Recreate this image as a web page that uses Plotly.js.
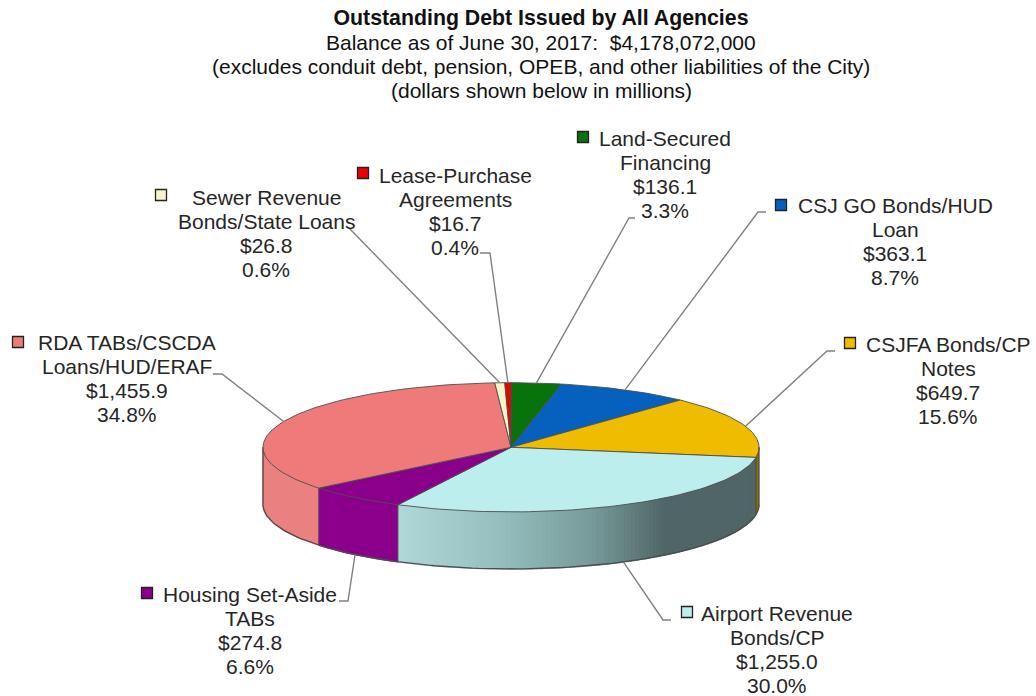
<!DOCTYPE html>
<html>
<head>
<meta charset="utf-8">
<script src="https://cdn.plot.ly/plotly-3.0.1.min.js"></script>
<style>html,body{margin:0;padding:0;background:#fff}#chart{width:1036px;height:696px}</style>
</head>
<body>
<div id="chart"></div>
<script>
// ---- chart values, clockwise from 12 o'clock
var categories = [['Land-Secured','Financing'], ['CSJ GO Bonds/HUD','Loan'], ['CSJFA Bonds/CP','Notes'],
  ['Airport Revenue','Bonds/CP'], ['Housing Set-Aside','TABs'], ['RDA TABs/CSCDA','Loans/HUD/ERAF'],
  ['Sewer Revenue','Bonds/State Loans'], ['Lease-Purchase','Agreements']];
var amounts = [136.1, 363.1, 649.7, 1255.0, 274.8, 1455.9, 26.8, 16.7];
var titleText = '<b>Outstanding Debt Issued by All Agencies</b>';
var subtitleLines = ['Balance as of June 30, 2017:  $4,178,072,000',
  '(excludes conduit debt, pension, OPEB, and other liabilities of the City)',
  '(dollars shown below in millions)'];

// ---- styles
var topColors  = ['#08730A', '#0560BE', '#EFBC00', '#BDEEEE', '#8B008B', '#EE7A7A', '#F5F5C8', '#EE0000'];
var wallColors = ['#08730A', '#0560BE', '#8A6E00', null, '#8B008B', '#EA8080', '#F5F5C8', '#EE0000'];
var edgeColor = '#4d4d4d', leaderColor = '#808080', textColor = '#262626';
var fontFamily = '"Liberation Sans", Arial, sans-serif', fontSize = 21, lineStep = 24.2;
// airport wall shading: [pixel x, r, g, b]
var gradient = [[398,176,216,216],[500,150,190,190],[590,120,155,155],[665,80,102,102],[757,80,102,102]];
// label layout (pixels on the axes that span the window)
var labelX   = [665, 895, 948, 777, 250, 127, 266, 455];
var labelY   = [138, 205, 344, 613, 594, 342, 197, 175];
var keyX     = [583, 781, 850, 687, 147,  18, 161, 363];
var keyY     = [137, 205, 343, 612, 593, 342, 195, 173];
var leaderA  = [[635,218,629,218],[766,212,758,212],[835,351,827,351],[671,620,663,620],
                [339,601,348,601],[213,374,222,374],[348,227,348,227],[480,253,490,253]];
// pie geometry
var cx = 511, cy = 447.3, rx = 248, ry = 64.6, depth = 57;

// ---- derived from values
var total = amounts.reduce(function(a,b){return a+b;}, 0);
function pos(deg, drop){
  var t = deg * Math.PI / 180;
  return [cx + rx * Math.sin(t), cy - ry * Math.cos(t) + (drop || 0)];
}
var starts = [], ends = [], acc = 0;
amounts.forEach(function(v){ starts.push(acc / total * 360); acc += v; ends.push(acc / total * 360); });

function arc(a, b, drop){
  var pts = [], n = Math.max(2, Math.ceil(Math.abs(b - a) / 1.5));
  for (var i = 0; i <= n; i++) pts.push(pos(a + (b - a) * i / n, drop));
  return pts;
}
function polyTrace(pts, fill, line, width){
  return {type:'scatter', mode:'lines', x:pts.map(function(p){return p[0];}), y:pts.map(function(p){return p[1];}),
    fill:'toself', fillcolor:fill, line:{color:line, width:width}, hoverinfo:'skip', showlegend:false};
}
function lineTrace(pts, color, width){
  return {type:'scatter', mode:'lines', x:pts.map(function(p){return p[0];}), y:pts.map(function(p){return p[1];}),
    line:{color:color, width:width}, hoverinfo:'skip', showlegend:false};
}
function shade(x){
  for (var i = 0; i < gradient.length - 1; i++){
    var g0 = gradient[i], g1 = gradient[i+1];
    if (x <= g1[0]){
      var f = Math.max(0, (x - g0[0]) / (g1[0] - g0[0]));
      return 'rgb(' + [1,2,3].map(function(k){return Math.round(g0[k] + (g1[k]-g0[k])*f);}).join(',') + ')';
    }
  }
  return 'rgb(80,102,102)';
}
var traces = [];
// outer walls: only the front half of the disc shows
amounts.forEach(function(v, i){
  var a = Math.max(starts[i], 90), b = Math.min(ends[i], 270);
  if (a >= b) return;
  var step = wallColors[i] ? (b - a) : 1;
  for (var s = a; s < b - 1e-6; s += step){
    var e = Math.min(s + step, b);
    var pts = arc(s, e, 0).concat(arc(e, s, depth));
    var col = wallColors[i] || shade(pos((s + e) / 2)[0]);
    traces.push(polyTrace(pts, col, col, 1.6));
  }
});
// wall separators and silhouette
amounts.forEach(function(v, i){
  if (ends[i] > 90 && ends[i] < 270){
    var p = pos(ends[i]);
    traces.push(lineTrace([p, [p[0], p[1] + depth]], edgeColor, 1));
  }
});
traces.push(lineTrace(arc(90, 270, depth), edgeColor, 1.3));
traces.push(lineTrace([pos(90), pos(90, depth)], edgeColor, 1.3));
traces.push(lineTrace([pos(270), pos(270, depth)], edgeColor, 1.3));
// top face
amounts.forEach(function(v, i){
  var pts = [[cx, cy]].concat(arc(starts[i], ends[i], 0)).concat([[cx, cy]]);
  traces.push(polyTrace(pts, topColors[i], edgeColor, 0.9));
});
// leader lines: the slice end is the slice's own mid-angle on the rim
amounts.forEach(function(v, i){
  var mid = (starts[i] + ends[i]) / 2;
  var front = Math.cos(mid * Math.PI / 180) < 0;
  var rim = pos(mid, front ? depth : 0);
  var l = leaderA[i];
  traces.push(lineTrace([[l[0],l[1]],[l[2],l[3]],rim], leaderColor, 1.4));
});
// legend keys
traces.push({type:'scatter', mode:'markers', x:keyX, y:keyY, hoverinfo:'skip', showlegend:false,
  marker:{symbol:'square', size:11, color:topColors, line:{color:'#222', width:1.3}}});

function money(v){ return '$' + v.toFixed(1).replace(/\B(?=(\d{3})+(?!\d))/g, ','); }
function textLine(text, x, y, color){
  return {x:x, y:y, xref:'x', yref:'y', xanchor:'center', yanchor:'middle', showarrow:false, align:'center', text:text,
    font:{family:fontFamily, size:fontSize, color:color}};
}
var annotations = [];
subtitleLines.forEach(function(t, i){ annotations.push(textLine(t, 541, 42 + i * lineStep, '#111')); });
categories.forEach(function(c, i){
  var lines = c.concat([money(amounts[i]), (amounts[i] / total * 100).toFixed(1) + '%']);
  lines.forEach(function(t, k){ annotations.push(textLine(t, labelX[i], labelY[i] + k * lineStep, textColor)); });
});

var layout = {
  width:1036, height:696, margin:{l:0,r:0,t:0,b:0}, paper_bgcolor:'#fff', plot_bgcolor:'#fff', showlegend:false, hovermode:false,
  title:{text:titleText, x:541/1036, xanchor:'center', xref:'paper', y:1-18/696, yanchor:'middle',
    font:{family:fontFamily, size:21.3, color:'#111'}},
  xaxis:{range:[0,1036], visible:false, fixedrange:true},
  yaxis:{range:[696,0], visible:false, fixedrange:true},
  annotations:annotations
};
Plotly.newPlot('chart', traces, layout, {displayModeBar:false, staticPlot:true});
</script>
</body>
</html>
